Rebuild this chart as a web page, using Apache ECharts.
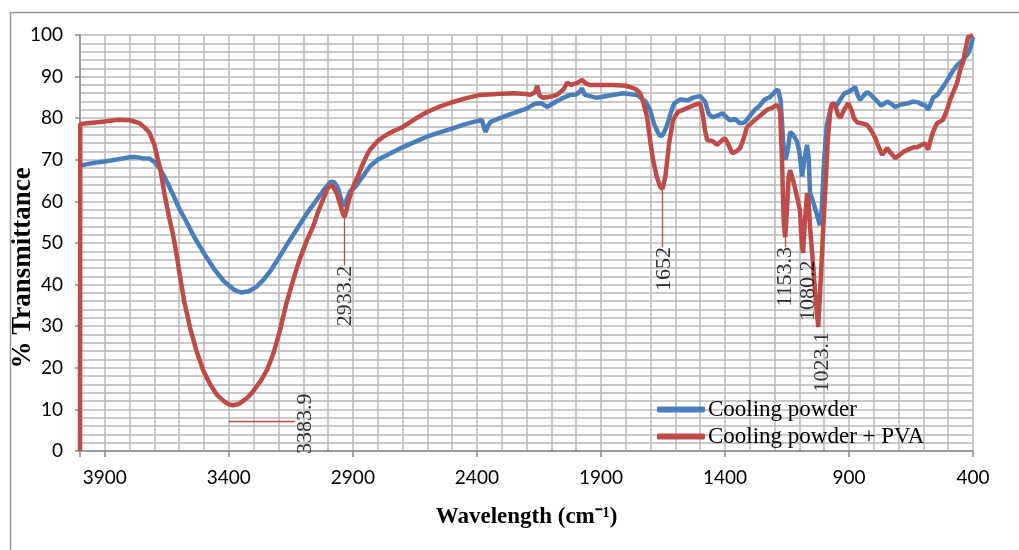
<!DOCTYPE html>
<html>
<head>
<meta charset="utf-8">
<script src="https://cdn.jsdelivr.net/npm/echarts@6/dist/echarts.min.js"></script>
<style>
  html, body { margin: 0; padding: 0; background: #fff; }
  #chartDiv { width: 1019px; height: 550px; }
</style>
</head>
<body>
<div id="chartDiv"></div>
<script>
// wavenumber (cm-1) / % transmittance
var coolingPowder = [
  [4000,68.6],[3950,69.2],[3900,69.6],[3850,70.1],[3800,70.6],[3780,70.7],[3750,70.4],[3720,70.3],
  [3700,69.5],[3680,68],[3660,66],[3640,63.5],[3620,61],[3600,58.3],[3570,55],[3540,51.5],[3500,47.5],
  [3460,43.8],[3420,40.8],[3380,38.8],[3350,38.1],[3320,38.4],[3290,39.4],[3260,41.2],[3230,43.5],
  [3200,46.3],[3170,49.2],[3140,52],[3110,54.8],[3080,57.6],[3050,60],[3020,62.5],[3000,64],[2990,64.7],
  [2975,64.6],[2960,63.2],[2945,60],[2935,58.8],[2925,60.5],[2910,62.5],[2890,63.5],[2860,66],[2830,68.5],
  [2800,70],[2750,71.5],[2700,73],[2650,74.3],[2600,75.6],[2550,76.6],[2500,77.5],[2450,78.5],[2400,79.3],
  [2380,79.6],[2370,77.5],[2365,76.7],[2355,78.2],[2345,79.1],[2300,80.2],[2250,81.3],[2200,82.3],
  [2165,83.5],[2140,83.6],[2117,82.7],[2080,84],[2052,84.9],[2024,85.6],[2000,85.7],[1984,86.5],
  [1976,87.2],[1965,85.6],[1915,84.9],[1860,85.5],[1810,86],[1754,85.6],[1720,84],[1702,82],[1685,78.5],
  [1670,76.5],[1660,75.7],[1650,76],[1635,78],[1620,81],[1605,83.5],[1580,84.5],[1550,84.3],[1525,85],
  [1500,85.3],[1480,84],[1465,81],[1450,80.2],[1430,80.6],[1410,81.2],[1395,80.3],[1380,79.5],[1360,79.8],
  [1340,78.8],[1320,79],[1300,80.5],[1280,82],[1260,83],[1240,84.5],[1220,85],[1210,85.6],[1195,86.6],
  [1185,86.8],[1175,84],[1165,74],[1155,70],[1145,73],[1137,76.7],[1125,76],[1110,74.5],[1100,72],
  [1089,66],[1080,70],[1069,73.6],[1062,70],[1057,62],[1045,60],[1030,57],[1018,54.3],[1010,58],
  [1000,70],[990,78],[975,82],[964,83.6],[950,83],[935,84.5],[918,86],[903,86.3],[885,87],[875,87.5],
  [865,85.5],[855,84.4],[840,85.5],[827,86.3],[815,85.8],[802,85],[785,84],[770,83],[762,82.7],[746,84],
  [730,83.5],[714,82.7],[690,83.3],[660,83.6],[642,84],[620,83.8],[601,83.2],[590,83],[581,82],[570,83.5],
  [561,85],[545,85.5],[533,86.5],[515,88],[500,89.5],[480,91.5],[460,93],[440,94],[420,95.5],[410,97],
  [400,99.5]
];
var coolingPowderPva = [
  [4000,0],[3999,78.6],[3950,78.9],[3900,79.2],[3850,79.6],[3800,79.5],[3780,79.2],[3760,78.8],[3740,77.8],
  [3720,76.5],[3700,73.5],[3690,71],[3677,68],[3660,62],[3640,56],[3625,52],[3610,47],[3597,42],[3580,36],
  [3556,29.5],[3530,24],[3504,19.5],[3475,16],[3448,13.5],[3420,12],[3400,11.2],[3385,11],[3360,11.3],
  [3327,12.7],[3300,14.5],[3270,17],[3246,19.5],[3220,23.5],[3194,29],[3170,35],[3141,41],[3115,46],
  [3085,50.7],[3060,54],[3040,57.5],[3020,60.5],[3000,63.3],[2990,63.8],[2980,63.5],[2965,62],[2950,59],
  [2940,57],[2933,56.3],[2925,58],[2915,60.5],[2899,63.5],[2880,66],[2860,69],[2840,71.5],[2831,72.4],
  [2800,74.5],[2778,75.5],[2740,76.8],[2698,77.9],[2650,79.8],[2601,81.5],[2550,82.8],[2496,83.9],
  [2450,84.7],[2387,85.6],[2320,85.8],[2254,86],[2200,85.8],[2185,85.6],[2165,86.3],[2157,87.8],
  [2148,85.5],[2133,84.9],[2100,85.2],[2077,85.6],[2050,87],[2036,88.5],[2020,88],[2012,88],[1995,88.5],
  [1976,89.2],[1960,88.3],[1944,88],[1900,88],[1851,88],[1800,87.8],[1782,87.5],[1760,87],[1742,86],
  [1730,84],[1714,80.3],[1700,74],[1690,70],[1675,66],[1661,63.5],[1652,63],[1640,66],[1625,74],
  [1609,79.6],[1590,81.5],[1569,82],[1530,83],[1500,83.6],[1490,81],[1480,77],[1472,74.8],[1450,74.5],
  [1432,73.6],[1415,74.5],[1400,75.2],[1385,73.5],[1371,71.6],[1355,72],[1339,72.8],[1325,75],[1311,77.9],
  [1290,79],[1271,80],[1250,81],[1231,82],[1210,82.5],[1190,83.2],[1178,82],[1170,70],[1163,55],
  [1157,51.4],[1150,58],[1143,66],[1137,67.5],[1125,65],[1109,61],[1098,58],[1090,50],[1085,47.6],
  [1078,55],[1069,62],[1063,60],[1057,53.8],[1045,45],[1035,37],[1024,29.8],[1015,40],[1005,52],
  [996,62],[985,75],[975,82],[968,83.6],[955,83],[945,81],[935,80],[920,82],[903,83.6],[890,82],[880,80],
  [867,79],[850,78.8],[827,78.4],[810,77],[794,75.2],[780,73],[766,71.2],[756,72],[746,72.8],[730,71.5],
  [714,70.4],[700,71],[681,71.9],[660,72.5],[640,73],[625,73],[610,73.5],[593,74],[581,72.4],[570,75],
  [561,76.7],[545,78.8],[521,79.6],[505,82],[492,84.4],[478,86.5],[464,88.5],[452,91.5],[440,93.5],
  [432,96],[420,99.5],[400,100]
];
// peak annotations: leader lines [from, to] and the label anchor (top end of the rotated text)
var peakLines = [
  [[3400,7.2],[3134,7.2]],
  [[2933.2,56.3],[2933.2,44.6]],
  [[1652,63],[1652,49]],
  [[1156,51.4],[1156,49]]
];
var peakLabels = [
  [3090,13.8,'3383.9'],
  [2930,44.5,'2933.2'],
  [1643,49,'1652'],
  [1158,49,'1153.3'],
  [1064,45.8,'1080.2'],
  [1006,28.6,'1023.1']
];

var chart = echarts.init(document.getElementById('chartDiv'));

var option = {
  animation: false,
  color: ['#4a7ebb', '#be4b48'],
  graphic: [{
    type: 'rect', left: 8, top: 10, silent: true,
    shape: { width: 1030, height: 560 },
    style: { fill: 'none', stroke: '#9a9a9a', lineWidth: 1.5 }
  }],
  grid: { left: 80, top: 35, right: 46, bottom: 99, containLabel: false, outerBoundsMode: 'none' },
  legend: {
    orient: 'vertical', left: 657, top: 398, itemGap: 4, padding: 0,
    itemWidth: 48, itemHeight: 6, icon: 'roundRect',
    textStyle: { fontFamily: 'Liberation Serif', fontSize: 23, color: '#000', padding: [0, 0, 0, -2] },
    data: ['Cooling powder', 'Cooling powder + PVA']
  },
  xAxis: [{
    type: 'value', min: 400, max: 4000, interval: 500, inverse: true,
    name: 'Wavelength (cm\u207B\u00B9)', nameLocation: 'middle', nameGap: 55, nameMoveOverlap: false,
    nameTextStyle: { fontFamily: 'Liberation Serif', fontWeight: 'bold', fontSize: 23, color: '#000' },
    axisLine: { show: true, onZero: false, lineStyle: { color: '#8c8c8c', width: 1.5 } },
    axisTick: { show: true, length: 6, lineStyle: { color: '#8c8c8c', width: 1.5 } },
    axisLabel: {
      fontFamily: 'Lato', fontSize: 19, color: '#000', margin: 17,
      formatter: function (v) { return v === 4000 ? '' : String(v); }
    },
    splitLine: { show: false }
  }, {
    type: 'value', min: 400, max: 4000, interval: 100, inverse: true, position: 'bottom',
    axisLine: { show: false }, axisTick: { show: false }, axisLabel: { show: false },
    splitLine: { show: true, lineStyle: { color: '#b8b8b8', width: 1.5 } }
  }],
  yAxis: {
    type: 'value', min: 0, max: 100, interval: 10,
    name: '% Transmittance', nameLocation: 'middle', nameGap: 43, nameRotate: 90, nameMoveOverlap: false,
    nameTextStyle: { fontFamily: 'Liberation Serif', fontWeight: 'bold', fontSize: 27, color: '#000', padding: [0, 50, 0, 0] },
    axisLine: { show: true, lineStyle: { color: '#8c8c8c', width: 1.5 } },
    axisTick: { show: true, length: 5, lineStyle: { color: '#8c8c8c', width: 1.5 } },
    axisLabel: { fontFamily: 'Lato', fontSize: 19, color: '#000', margin: 17 },
    splitLine: { show: true, lineStyle: { color: '#b8b8b8', width: 1.5 } },
    minorTick: { show: false, splitNumber: 5 },
    minorSplitLine: { show: true, lineStyle: { color: '#b8b8b8', width: 1.5 } }
  },
  series: [{
    name: 'Cooling powder', type: 'line', data: coolingPowder,
    showSymbol: false, lineStyle: { width: 4.5, color: '#4a7ebb' },
    itemStyle: { color: '#4a7ebb' }, z: 3
  }, {
    name: 'Cooling powder + PVA', type: 'line', data: coolingPowderPva,
    showSymbol: false, lineStyle: { width: 4.5, color: '#be4b48' },
    itemStyle: { color: '#be4b48' }, z: 4,
    markLine: {
      silent: true, symbol: ['none', 'none'], animation: false,
      label: { show: false },
      lineStyle: { color: '#be4b48', width: 1.3, type: 'solid' },
      data: peakLines.map(function (p) { return [{ coord: p[0] }, { coord: p[1] }]; })
    }
  }, {
    name: 'peaks', type: 'scatter', data: peakLabels, silent: true, z: 6,
    symbol: 'circle', symbolSize: 0.1, itemStyle: { color: 'transparent' },
    label: {
      show: true, position: [0, 0], rotate: 90, align: 'right', verticalAlign: 'middle',
      fontFamily: 'Liberation Serif', fontSize: 22, color: '#000',
      formatter: function (p) { return p.value[2]; }
    }
  }]
};
chart.setOption(option);
</script>
</body>
</html>
